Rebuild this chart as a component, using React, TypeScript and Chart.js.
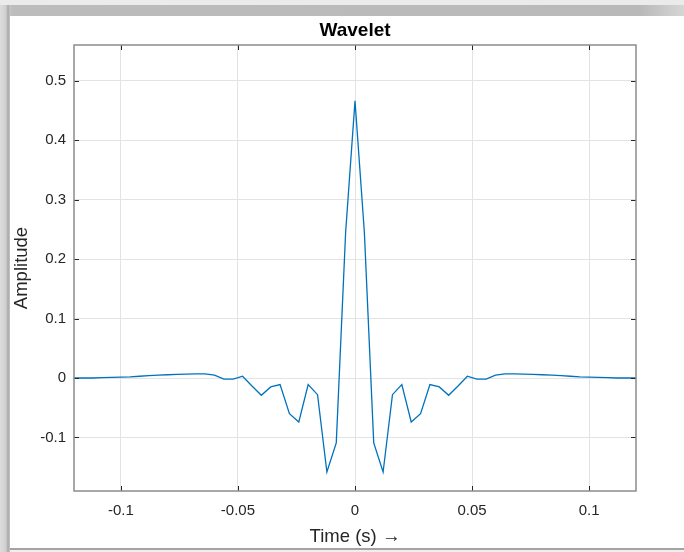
import React, { useEffect, useRef } from 'react';
import { Chart, registerables } from 'chart.js';

Chart.register(...registerables);

// Sample times (s), 4 ms spacing
const timeSeconds = [
  -0.12, -0.116, -0.112, -0.108, -0.104, -0.1, -0.096, -0.092, -0.088, -0.084,
  -0.08, -0.076, -0.072, -0.068, -0.064, -0.06, -0.056, -0.052, -0.048, -0.044,
  -0.04, -0.036, -0.032, -0.028, -0.024, -0.02, -0.016, -0.012, -0.008, -0.004,
  0,
  0.004, 0.008, 0.012, 0.016, 0.02, 0.024, 0.028, 0.032, 0.036, 0.04,
  0.044, 0.048, 0.052, 0.056, 0.06, 0.064, 0.068, 0.072, 0.076, 0.08,
  0.084, 0.088, 0.092, 0.096, 0.1, 0.104, 0.108, 0.112, 0.116, 0.12,
];

// Wavelet amplitude at each sample
const amplitude = [
  0.0, 0.0, 0.0, 0.0005, 0.001, 0.0015, 0.002, 0.003, 0.004, 0.005,
  0.0055, 0.006, 0.0065, 0.007, 0.007, 0.005, -0.002, -0.002, 0.003, -0.0135,
  -0.029, -0.015, -0.011, -0.06, -0.074, -0.011, -0.028, -0.158, -0.109, 0.245,
  0.466,
  0.245, -0.109, -0.158, -0.028, -0.011, -0.074, -0.06, -0.011, -0.015, -0.029,
  -0.0135, 0.003, -0.002, -0.002, 0.005, 0.007, 0.007, 0.0065, 0.006, 0.0055,
  0.005, 0.004, 0.003, 0.002, 0.0015, 0.001, 0.0005, 0.0, 0.0, 0.0,
];

const xTickValues = [-0.1, -0.05, 0, 0.05, 0.1];
const xTickLabels = ['-0.1', '-0.05', '0', '0.05', '0.1'];
const yTickValues = [-0.1, 0, 0.1, 0.2, 0.3, 0.4, 0.5];
const yTickLabels = ['-0.1', '0', '0.1', '0.2', '0.3', '0.4', '0.5'];
const xLimits = [-0.12, 0.12];
const yLimits = [-0.19, 0.56];

const FONT = '"Liberation Sans", Arial, Helvetica, sans-serif';
const TEXT = '#262626';

const labelFor = (values: number[], labels: string[], v: number) => {
  const i = values.findIndex((t) => Math.abs(t - v) < 1e-9);
  return i >= 0 ? labels[i] : '';
};

// Axes box with inward tick marks on all four sides
const axesBox = {
  id: 'axesBox',
  afterDraw(chart: any) {
    const { ctx, chartArea: a, scales } = chart;
    ctx.save();
    ctx.strokeStyle = '#262626';
    ctx.lineWidth = 1;
    ctx.beginPath();
    xTickValues.forEach((v) => {
      const px = Math.round(scales.x.getPixelForValue(v)) + 0.5;
      ctx.moveTo(px, a.bottom);
      ctx.lineTo(px, a.bottom - 5);
      ctx.moveTo(px, a.top);
      ctx.lineTo(px, a.top + 5);
    });
    yTickValues.forEach((v) => {
      const py = Math.round(scales.y.getPixelForValue(v)) + 0.5;
      ctx.moveTo(a.left, py);
      ctx.lineTo(a.left + 5, py);
      ctx.moveTo(a.right, py);
      ctx.lineTo(a.right - 5, py);
    });
    ctx.stroke();
    ctx.strokeStyle = '#8c8c8c';
    ctx.lineWidth = 1.5;
    ctx.strokeRect(a.left, a.top, a.right - a.left, a.bottom - a.top);
    ctx.restore();
  },
};

function WaveletChart() {
  const canvasRef = useRef<HTMLCanvasElement | null>(null);

  useEffect(() => {
    const canvas = canvasRef.current;
    if (!canvas) return;
    const chart = new Chart(canvas, {
      type: 'line',
      data: {
        datasets: [
          {
            data: timeSeconds.map((t, i) => ({ x: t, y: amplitude[i] })),
            borderColor: '#0072BD',
            borderWidth: 1.3,
            pointRadius: 0,
            tension: 0,
            fill: false,
          },
        ],
      },
      options: {
        animation: false,
        responsive: false,
        devicePixelRatio: 1,
        layout: { padding: { left: 0, right: 48, top: 0, bottom: 0 } },
        plugins: {
          legend: { display: false },
          tooltip: { enabled: false },
          title: {
            display: true,
            text: 'Wavelet',
            fullSize: false,
            color: '#000',
            font: { family: FONT, size: 19, weight: 'bold', lineHeight: 1.2 },
            padding: { top: 19.6, bottom: 2.6 },
          },
        },
        scales: {
          x: {
            type: 'linear',
            min: xLimits[0],
            max: xLimits[1],
            afterBuildTicks: (s: any) => {
              s.ticks = xTickValues.map((value) => ({ value }));
            },
            afterFit: (s: any) => {
              s.height = 61;
            },
            ticks: {
              autoSkip: false,
              maxRotation: 0,
              padding: 11,
              color: TEXT,
              font: { family: FONT, size: 15, lineHeight: 1.2 },
              callback: (v: any) => labelFor(xTickValues, xTickLabels, Number(v)),
            },
            grid: { color: '#e3e3e3', lineWidth: 1, drawTicks: false },
            border: { display: false },
            title: {
              display: true,
              text: 'Time (s) \u2192',
              color: TEXT,
              font: { family: FONT, size: 18.5, lineHeight: 1.2 },
              padding: { top: 0, bottom: 3.9 },
            },
          },
          y: {
            type: 'linear',
            min: yLimits[0],
            max: yLimits[1],
            afterBuildTicks: (s: any) => {
              s.ticks = yTickValues.map((value) => ({ value }));
            },
            afterFit: (s: any) => {
              s.width = 74;
            },
            ticks: {
              autoSkip: false,
              padding: 8,
              color: TEXT,
              font: { family: FONT, size: 15, lineHeight: 1.2 },
              callback: (v: any) => labelFor(yTickValues, yTickLabels, Number(v)),
            },
            grid: { color: '#e3e3e3', lineWidth: 1, drawTicks: false },
            border: { display: false },
            title: {
              display: true,
              text: 'Amplitude',
              color: TEXT,
              font: { family: FONT, size: 18.5, lineHeight: 1.2 },
              padding: { top: 10.9, bottom: 0 },
            },
          },
        },
      },
      plugins: [axesBox],
    } as any);
    return () => chart.destroy();
  }, []);

  return (
    <canvas
      ref={canvasRef}
      width={684}
      height={552}
      style={{ position: 'absolute', left: 0, top: 0, width: 684, height: 552 }}
    />
  );
}

export default function App() {
  return (
    <div
      style={{
        position: 'absolute',
        left: 0,
        top: 0,
        width: 684,
        height: 552,
        background: '#ffffff',
        overflow: 'hidden',
      }}
    >
      {/* window shadow edges */}
      <div style={{ position: 'absolute', left: 0, top: 0, width: 684, height: 5, background: '#ebebeb' }} />
      <div
        style={{
          position: 'absolute',
          left: 0,
          top: 5,
          width: 684,
          height: 11,
          background: 'linear-gradient(to right, #d2d2d2 0px, #bcbcbc 14px, #b9b9b9 640px, #d6d6d6 684px)',
        }}
      />
      <div
        style={{
          position: 'absolute',
          left: 0,
          top: 5,
          width: 10,
          height: 547,
          background: 'linear-gradient(to right, #dddddd 0px, #cfcfcf 6px, #a9a9a9 8px, #c4c4c4 10px)',
        }}
      />
      <div style={{ position: 'absolute', left: 10, top: 548, width: 674, height: 2, background: '#a3a3a3' }} />
      <div style={{ position: 'absolute', left: 10, top: 550, width: 674, height: 2, background: '#eeeeee' }} />
      <WaveletChart />
    </div>
  );
}
